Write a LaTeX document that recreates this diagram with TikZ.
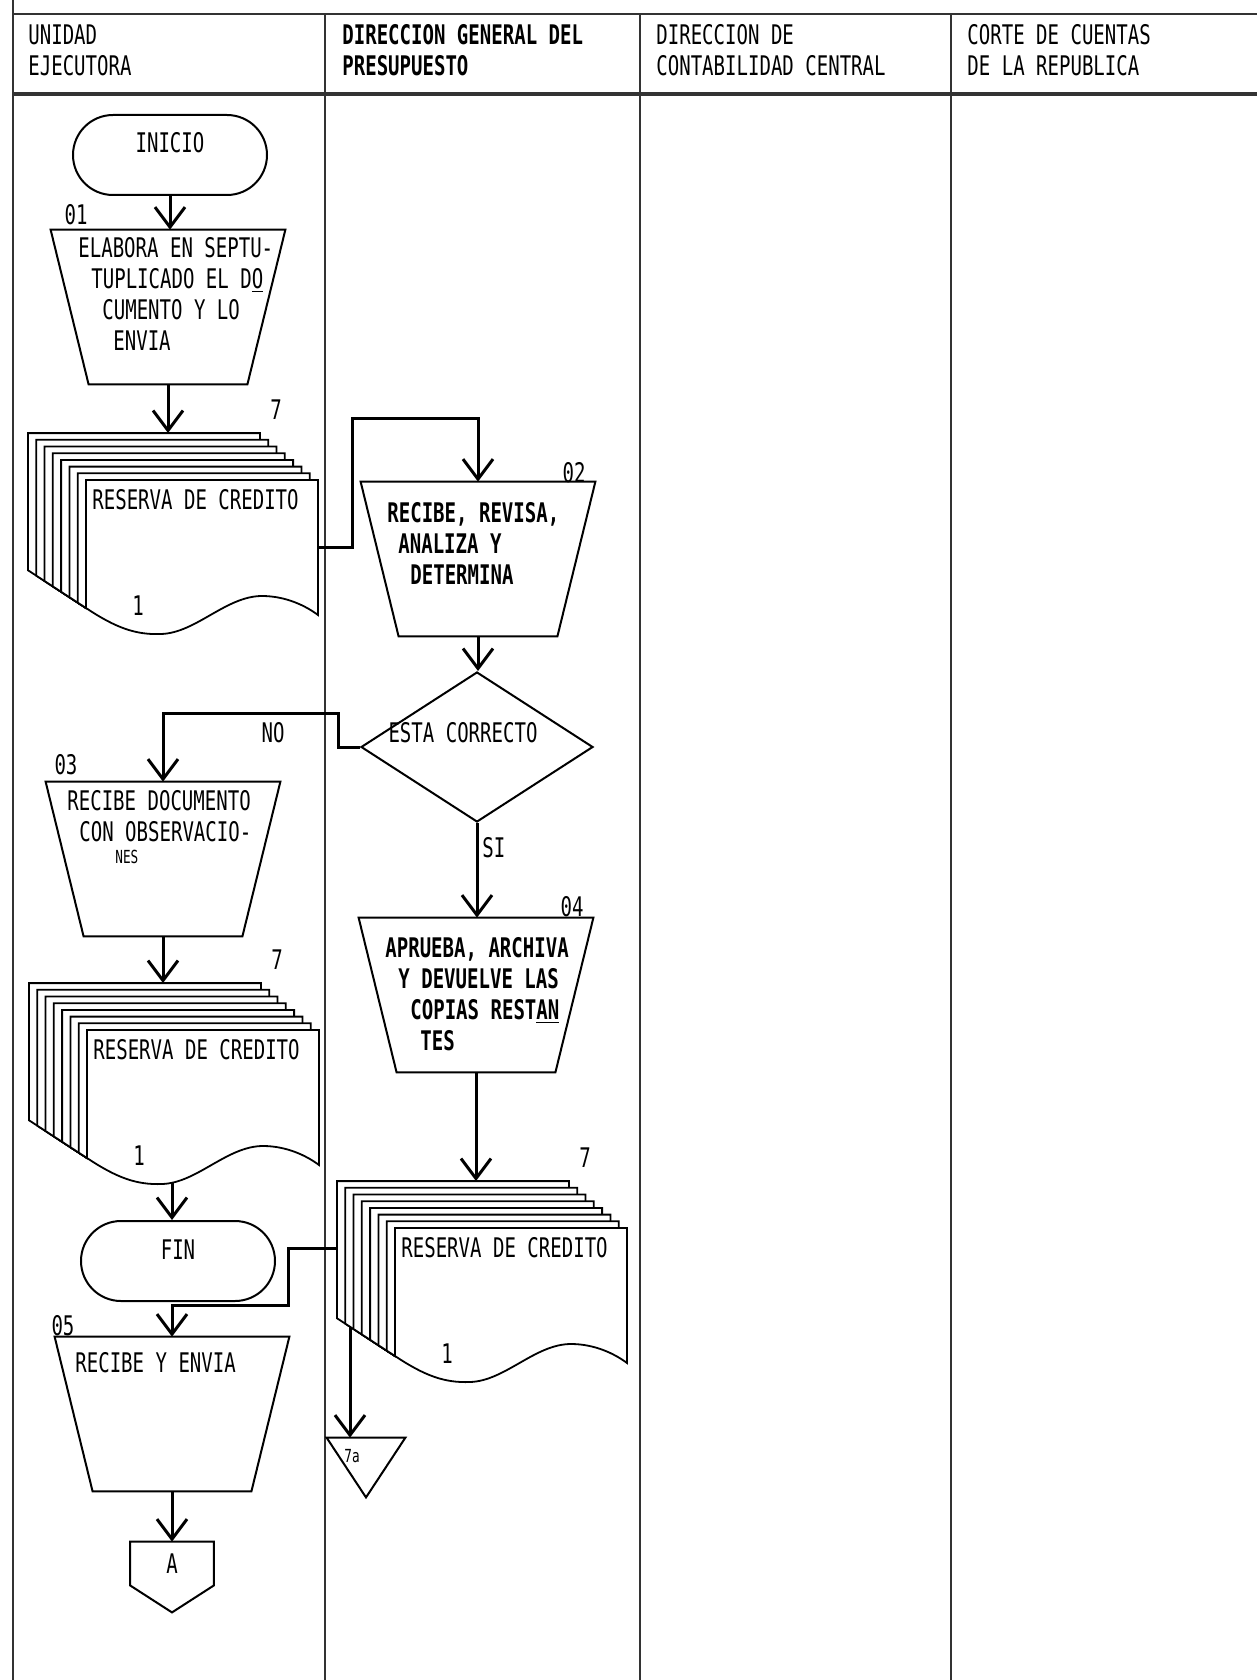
\documentclass[tikz,border=0pt]{standalone}
\usepackage{fontspec}
\setmainfont{DejaVu Sans Mono}[FakeStretch=0.705]
\usetikzlibrary{arrows.meta,shapes.geometric,shapes.misc,calc}

\begin{document}
\begin{tikzpicture}[x=0.5pt,y=-0.5pt,
  txt/.style={font=\fontsize{13.5}{15.5}\selectfont, inner sep=0pt},
  lane/.style={line width=1.4pt, black!80},
  shapeline/.style={line width=1pt},
  flow/.style={line width=1.5pt, -{Straight Barb[length=10pt,width=15pt]}},
  terminal/.style={txt, rounded rectangle, draw, line width=1pt, minimum width=97pt,
    minimum height=40pt, text height=10pt, text depth=12pt},
  proc/.style={minimum width=117pt, minimum height=77pt, inner sep=0pt},
  page/.style={fill=white, draw, line width=0.9pt}
]

\useasboundingbox (0,0) rectangle (1257,1680);

% Swim lanes
\draw[lane] (13,0) -- (13,1680);
\draw[lane] (13,14) -- (1257,14);
\draw[lane, line width=1.6pt] (13,94) -- (1257,94);
\foreach \x in {325,640,951} {
  \draw[lane] (\x,14) -- (\x,1680);
}

% Lane titles
\node[txt, align=left, anchor=north west] (hdue) at (28,24) {UNIDAD\\EJECUTORA};
\node[txt, align=left, anchor=north west, font=\fontsize{13.5}{15.5}\selectfont\bfseries] (hddgp) at (342,24) {DIRECCION GENERAL DEL\\PRESUPUESTO};
\node[txt, align=left, anchor=north west] (hddcc) at (656,24) {DIRECCION DE\\CONTABILIDAD CENTRAL};
\node[txt, align=left, anchor=north west] (hdccr) at (967,24) {CORTE DE CUENTAS\\DE LA REPUBLICA};

% Document stacks (seven copies)
\foreach \nm/\sx/\sy in {s1/86/480, s2/87/1030, s3/395/1228} {
  \begin{scope}[shift={(\sx,\sy)}]
    \foreach \k in {7,6,...,1} {
      \filldraw[page] ({-8.3*\k},{-6.7*\k}) -- ({232-8.3*\k},{-6.7*\k}) -- ({232-8.3*\k},100)
        -- (10,112) -- (0,128) -- ({-8.3*\k},{128-5.4*\k}) -- cycle;
    }
    \filldraw[page] (0,0) -- (232,0) -- (232,135) .. controls (220,126) and (200,116) .. (176,116)
      .. controls (140,116) and (110,153) .. (75,154) .. controls (50,155) and (30,148) .. (0,128) -- cycle;
    \node[txt, anchor=west] (\nm-txt) at (6,20) {RESERVA DE CREDITO};
    \node[txt] (\nm-one) at (52,126) {1};
    \node[txt] (\nm-cnt) at (190,-70) {7};
    \coordinate (\nm-n) at (80,-47);
    \coordinate (\nm-e) at (232,67);
    \coordinate (\nm-s) at (85,152);
    \coordinate (\nm-w) at (-58,20);
    \coordinate (\nm-a) at (-45,99);
  \end{scope}
}

% Unidad ejecutora
\node[terminal] (inicio) at (170,155) {INICIO};
\node[proc] (p01) at (168,307) {};
\node[txt] (n01) at (76,215) {01};
\node[txt, align=left, anchor=north west] (t01) at (78,237)
  {ELABORA EN SEPTU-\\\hspace*{6.5pt}TUPLICADO EL D\underline{O}\\\hspace*{12pt}CUMENTO Y LO\\\hspace*{17.5pt}ENVIA};

\node[proc] (p03) at (163,859) {};
\node[txt] (n03) at (66,765) {03};
\node[txt, align=left, anchor=north west] (t03) at (67,790)
  {RECIBE DOCUMENTO\\\hspace*{6pt}CON OBSERVACIO-};
\node[txt, anchor=west, font=\fontsize{9}{10}\selectfont] (t03b) at (115,857) {NES};

\node[terminal] (fin) at (178,1261) {FIN};

\node[proc] (p05) at (172,1414) {};
\node[txt] (n05) at (63,1326) {05};
\node[txt, anchor=north west] (t05) at (75,1352) {RECIBE Y ENVIA};

\node[txt, minimum width=41.5pt, minimum height=35pt, text height=10pt, text depth=14pt] (offa) at (172,1577) {A};

% Direccion general del presupuesto
\node[proc] (p02) at (478,559) {};
\node[txt] (n02) at (574,473) {02};
\node[txt, align=left, anchor=north west, font=\fontsize{13.5}{15.5}\selectfont\bfseries] (t02) at (387,502)
  {RECIBE, REVISA,\\\hspace*{5.5pt}ANALIZA Y\\\hspace*{11.5pt}DETERMINA};

\node[diamond, draw, line width=1pt, minimum width=116pt, minimum height=75pt,
  inner sep=0pt] (dec) at (477,747) {};
\node[txt] (tdec) at (463,733) {ESTA CORRECTO};
\node[txt] (lblno) at (273,733) {NO};
\node[txt, anchor=west] (lblsi) at (482,848) {SI};

\node[proc] (p04) at (476,995) {};
\node[txt] (n04) at (572,907) {04};
\node[txt, align=left, anchor=north west, font=\fontsize{13.5}{15.5}\selectfont\bfseries] (t04) at (385,937)
  {APRUEBA, ARCHIVA\\\hspace*{6.5pt}Y DEVUELVE LAS\\\hspace*{12.5pt}COPIAS REST\underline{AN}\\\hspace*{17.5pt}TES};

\node[minimum width=39pt, minimum height=29.5pt, inner sep=0pt] (arch) at (366,1467.5) {};
\node[txt, font=\fontsize{9}{10}\selectfont] (t7a) at (352,1456) {7a};

% Process outlines
\foreach \b in {p01,p02,p03,p04,p05} {
  \draw[shapeline] (\b.north west) -- (\b.north east) -- ([xshift=-19pt]\b.south east)
    -- ([xshift=19pt]\b.south west) -- cycle;
}
\draw[shapeline] (offa.north west) -- (offa.north east) -- ($(offa.south east)+(0,-27)$)
  -- (offa.south) -- ($(offa.south west)+(0,-27)$) -- cycle;
\draw[shapeline] (arch.north west) -- (arch.north east) -- (arch.south) -- cycle;

% Flow lines
\coordinate (j1) at (352,418);
\coordinate (j2) at (338,713);
\coordinate (j3) at (288,1305);
\draw[flow] (inicio.south) -- (inicio.south |- p01.north);
\draw[flow] (p01.south) -- (p01.south |- s1-n);
\draw[flow] (s1-e) -| (j1) -| (p02.north);
\draw[flow] (p02.south) -- (p02.south |- dec.north);
\draw[flow] (dec.west) -| (j2) -| (p03.north);
\draw[flow] (dec.south) -- (dec.south |- p04.north);
\draw[flow] (p03.south) -- (p03.south |- s2-n);
\draw[flow] (s2-s) -- (s2-s |- fin.north);
\draw[flow] (p04.south) -- (p04.south |- s3-n);
\draw[flow] (s3-w) -| (j3) -| (p05.north);
\draw[flow] (s3-a) -- (s3-a |- arch.north);
\draw[flow] (p05.south) -- (p05.south |- offa.north);

\end{tikzpicture}
\end{document}
